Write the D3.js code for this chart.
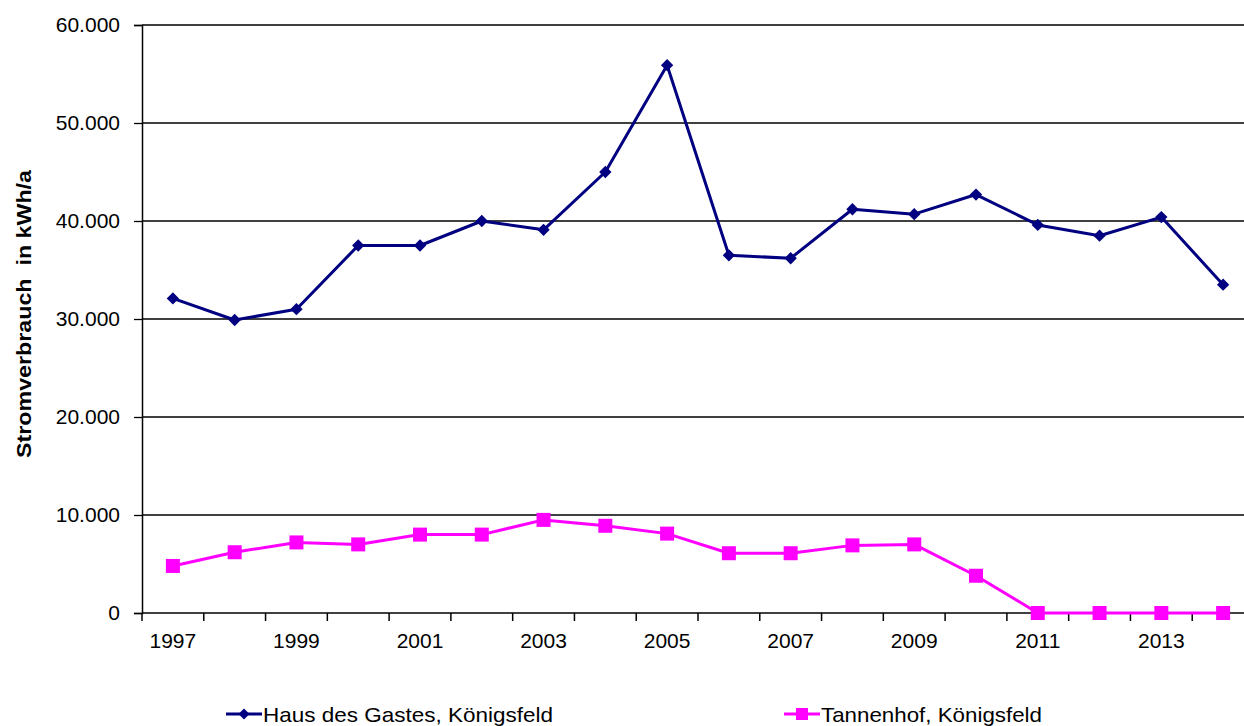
<!DOCTYPE html>
<html><head><meta charset="utf-8">
<script src="https://cdn.jsdelivr.net/npm/d3@7"></script>
<style>html,body{margin:0;padding:0;background:#fff;}svg{display:block;font-family:"Liberation Sans",Arial,sans-serif;}</style>
</head><body>
<svg id="c" width="1244" height="726"></svg>
<script>
const years = ["1997","1998","1999","2000","2001","2002","2003","2004","2005","2006","2007","2008","2009","2010","2011","2012","2013","2014"];
const hausDesGastes = [32100,29900,31000,37500,37500,40000,39100,45000,55900,36500,36200,41200,40700,42700,39600,38500,40400,33500];
const tannenhof = [4800,6200,7200,7000,8000,8000,9500,8900,8100,6100,6100,6900,7000,3800,0,0,0,0];
const yTicks = [0,10000,20000,30000,40000,50000,60000];
const seriesNames = ["Haus des Gastes, Königsfeld","Tannenhof, Königsfeld"];
const seriesColors = ["#000080","#FF00FF"];

const svg = d3.select("#c");
const L = 142, R = 1254, T = 25, B = 613;
const x = d3.scaleBand().domain(years).range([L, R]).paddingInner(0).paddingOuter(0);
const y = d3.scaleLinear().domain([0, 60000]).range([B, T]);
const fmt = v => v === 0 ? "0" : d3.format(",")(v).replace(/,/g, ".");

// gridlines
svg.append("g").selectAll("line").data(yTicks.filter(d => d > 0)).join("line")
  .attr("x1", L).attr("x2", R).attr("y1", d => y(d)).attr("y2", d => y(d))
  .attr("stroke", "#000").attr("stroke-width", 1.3);

// y axis
const ya = svg.append("g").attr("transform", `translate(${L},0)`)
  .call(d3.axisLeft(y).tickValues(yTicks).tickFormat(fmt).tickSize(8).tickPadding(14));
ya.select(".domain").attr("stroke", "#000").attr("stroke-width", 1.5);
ya.selectAll(".tick line").attr("stroke", "#000").attr("stroke-width", 1.3);
ya.selectAll("text").attr("font-size", 21).attr("fill", "#000").attr("font-family", "Liberation Sans, Arial, sans-serif");

// x axis
const xa = svg.append("g").attr("transform", `translate(0,${B})`);
xa.append("line").attr("x1", L).attr("x2", R).attr("stroke", "#000").attr("stroke-width", 1.5);
const bounds = years.map(d => x(d)).concat([R]);
xa.selectAll("line.tk").data(bounds).join("line").attr("class", "tk")
  .attr("x1", d => d).attr("x2", d => d).attr("y1", 0).attr("y2", 8)
  .attr("stroke", "#000").attr("stroke-width", 1.5);
xa.selectAll("text").data(years.filter((d, i) => i % 2 === 0)).join("text")
  .attr("x", d => x(d) + x.bandwidth() / 2).attr("y", 35)
  .attr("text-anchor", "middle").attr("font-size", 21).attr("fill", "#000").text(d => d);

// y title
svg.append("text").attr("transform", "translate(31,314) rotate(-90)")
  .attr("text-anchor", "middle").attr("font-size", 21).attr("font-weight", "bold")
  .attr("textLength", 288).attr("lengthAdjust", "spacingAndGlyphs")
  .attr("fill", "#000").attr("xml:space", "preserve").text("Stromverbrauch  in kWh/a");

const cx = d => x(d) + x.bandwidth() / 2;
const line = d3.line().x((v, i) => cx(years[i])).y(v => y(v));

// series
const data = [hausDesGastes, tannenhof];
data.forEach((vals, si) => {
  svg.append("path").attr("d", line(vals)).attr("fill", "none")
    .attr("stroke", seriesColors[si]).attr("stroke-width", 3).attr("stroke-linejoin", "round");
});
svg.append("g").selectAll("path").data(hausDesGastes).join("path")
  .attr("d", d3.symbol().type(d3.symbolSquare).size(76)).attr("fill", seriesColors[0])
  .attr("transform", (v, i) => `translate(${cx(years[i])},${y(v)}) rotate(45)`);
svg.append("g").selectAll("rect").data(tannenhof).join("rect")
  .attr("x", (v, i) => cx(years[i]) - 7).attr("y", v => y(v) - 7)
  .attr("width", 14).attr("height", 14).attr("fill", seriesColors[1]);

// legend
const legX = [226, 784];
const legW = [290, 221];
seriesNames.forEach((n, i) => {
  const g = svg.append("g").attr("transform", `translate(${legX[i]},714)`);
  g.append("line").attr("x1", 0).attr("x2", 36).attr("stroke", seriesColors[i]).attr("stroke-width", 3);
  if (i === 0) g.append("path").attr("d", d3.symbol().type(d3.symbolSquare).size(60)).attr("transform", "translate(18,0) rotate(45)").attr("fill", seriesColors[i]);
  else g.append("rect").attr("x", 12).attr("y", -6).attr("width", 12).attr("height", 12).attr("fill", seriesColors[i]);
  g.append("text").attr("x", 37).attr("y", 8).attr("font-size", 21).attr("fill", "#000")
    .attr("textLength", legW[i]).attr("lengthAdjust", "spacingAndGlyphs").text(n);
});
</script>
</body></html>
